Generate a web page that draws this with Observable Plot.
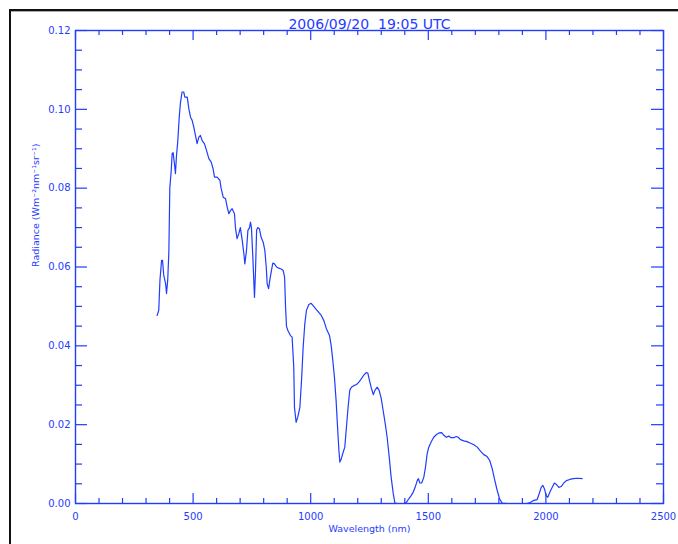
<!DOCTYPE html>
<html>
<head>
<meta charset="utf-8">
<script src="https://cdn.jsdelivr.net/npm/d3@7"></script>
<script src="https://cdn.jsdelivr.net/npm/@observablehq/plot@0.6"></script>
<style>
  html, body { margin: 0; padding: 0; background: #fff; }
  #wrap { position: relative; width: 678px; height: 544px; overflow: hidden; }
  #wrap svg { position: absolute; left: 0; top: 0; }
  #border { position: absolute; left: 9px; top: 9px; width: 680px; height: 540px;
            border-top: 2px solid #111; border-left: 2px solid #111; box-shadow: inset 0 1px 0 #aaa; pointer-events: none; }
</style>
</head>
<body>
<div id="wrap"><div id="border"></div></div>
<script>
const titleText = "2006/09/20  19:05 UTC";
const xLabel = "Wavelength (nm)";
const yLabel = "Radiance (Wm\u207B\u00B2nm\u207B\u00B9sr\u207B\u00B9)";

const wavelength = [347,354,359,366,370,375,383,387,392,397,401,407,411,415,421,425,429,435,441,446,453,460,465,475,482,489,496,503,510,517,524,531,539,548,557,567,577,585,591,602,614,619,628,638,645,652,659,666,676,680,687,694,701,709,716,720,727,733,740,744,748,754,758,761,765,770,775,782,789,798,805,811,815,821,826,833,839,846,855,864,875,883,889,893,897,903,914,921,928,931,938,945,954,961,968,975,982,992,1002,1013,1025,1035,1045,1056,1067,1080,1087,1094,1101,1108,1115,1120,1124,1130,1138,1145,1152,1159,1166,1173,1183,1195,1205,1215,1226,1236,1243,1250,1257,1266,1273,1283,1291,1300,1308,1317,1325,1334,1342,1351,1358,1370,1385,1396,1407,1417,1427,1436,1444,1453,1458,1464,1472,1481,1488,1495,1502,1512,1523,1535,1546,1557,1566,1577,1587,1597,1608,1619,1627,1637,1651,1665,1680,1694,1708,1722,1736,1750,1761,1772,1781,1793,1803,1814,1835,1860,1890,1920,1935,1949,1963,1971,1980,1987,1994,2001,2008,2017,2027,2036,2045,2055,2065,2076,2087,2102,2116,2133,2154];

const radiance = [0.0477,0.049,0.0566,0.0617,0.0617,0.058,0.0558,0.0533,0.0566,0.064,0.080,0.0845,0.0888,0.089,0.086,0.0837,0.0879,0.092,0.098,0.1015,0.1044,0.1044,0.1031,0.1031,0.1001,0.098,0.0972,0.0955,0.0934,0.0913,0.0929,0.0934,0.092,0.0913,0.0896,0.0875,0.0866,0.0849,0.0828,0.0828,0.082,0.080,0.0777,0.0773,0.0752,0.0735,0.0743,0.0748,0.0735,0.070,0.0672,0.0684,0.070,0.0667,0.0633,0.0608,0.0642,0.0693,0.070,0.0714,0.070,0.0625,0.0566,0.0523,0.0583,0.0693,0.070,0.0697,0.0676,0.0663,0.0642,0.060,0.0557,0.0545,0.0566,0.0591,0.061,0.0608,0.060,0.0597,0.0595,0.0591,0.0574,0.050,0.045,0.0439,0.0426,0.0422,0.0346,0.0244,0.0206,0.0219,0.0244,0.0312,0.0397,0.0456,0.049,0.0505,0.0508,0.050,0.0491,0.0484,0.0477,0.0464,0.0443,0.0426,0.0401,0.0363,0.032,0.0261,0.0185,0.0134,0.0105,0.0113,0.013,0.0143,0.0194,0.0244,0.0287,0.0295,0.0299,0.0302,0.0308,0.0316,0.0326,0.0332,0.0331,0.0312,0.0295,0.0276,0.0287,0.0295,0.0287,0.0266,0.0236,0.0202,0.0168,0.0117,0.0067,0.0025,0.0001,0,0,0,0.0003,0.0012,0.002,0.0029,0.0041,0.0058,0.0063,0.0052,0.0052,0.0067,0.0092,0.0126,0.0143,0.0156,0.0168,0.0175,0.0179,0.018,0.0173,0.0168,0.0171,0.0167,0.0167,0.017,0.0168,0.0162,0.0159,0.0157,0.0153,0.0149,0.0143,0.0133,0.0124,0.0119,0.0109,0.0088,0.0063,0.0033,0.0012,0.0001,0,0,0,0,0.0003,0.0008,0.001,0.0024,0.0041,0.0046,0.0037,0.002,0.0016,0.0029,0.0041,0.0052,0.0048,0.0041,0.0043,0.0052,0.0058,0.0061,0.0063,0.0064,0.0063];

const xMajor = [0, 500, 1000, 1500, 2000, 2500];
const xMinor = [100,200,300,400,600,700,800,900,1100,1200,1300,1400,1600,1700,1800,1900,2100,2200,2300,2400];
const yMajor = [0, 0.02, 0.04, 0.06, 0.08, 0.10, 0.12];
const yMinor = [0.005,0.01,0.015,0.025,0.03,0.035,0.045,0.05,0.055,0.065,0.07,0.075,0.085,0.09,0.095,0.105,0.11,0.115];

const data = wavelength.map((w, i) => ({w, r: radiance[i]}));

const W = 678, H = 544, mL = 75, mR = 15, mT = 30, mB = 41;
const pw = W - mL - mR, ph = H - mT - mB;
const blue = "#1f3cff";

const chart = Plot.plot({
  width: W, height: H,
  marginLeft: mL, marginRight: mR, marginTop: mT, marginBottom: mB,
  style: {fontFamily: "'DejaVu Sans', sans-serif", fontSize: "10px", color: blue, background: "transparent"},
  x: {domain: [0, 2500], label: null},
  y: {domain: [0, 0.12], label: null},
  marks: [
    Plot.frame({stroke: blue, strokeWidth: 1.4}),
    // bottom ticks (inward)
    Plot.tickX(xMajor, {x: d => d, stroke: blue, strokeWidth: 1.2, insetTop: ph - 10}),
    Plot.tickX(xMinor, {x: d => d, stroke: blue, strokeWidth: 1.2, insetTop: ph - 5}),
    // top ticks
    Plot.tickX(xMajor, {x: d => d, stroke: blue, strokeWidth: 1.2, insetBottom: ph - 10}),
    Plot.tickX(xMinor, {x: d => d, stroke: blue, strokeWidth: 1.2, insetBottom: ph - 5}),
    // left ticks
    Plot.tickY(yMajor, {y: d => d, stroke: blue, strokeWidth: 1.2, insetRight: pw - 12}),
    Plot.tickY(yMinor, {y: d => d, stroke: blue, strokeWidth: 1.2, insetRight: pw - 7}),
    // right ticks
    Plot.tickY(yMajor, {y: d => d, stroke: blue, strokeWidth: 1.2, insetLeft: pw - 12}),
    Plot.tickY(yMinor, {y: d => d, stroke: blue, strokeWidth: 1.2, insetLeft: pw - 7}),
    Plot.axisX({ticks: xMajor, tickSize: 0, tickPadding: 9, tickFormat: d => String(d), fontSize: 10, label: null}),
    Plot.axisY({ticks: yMajor, tickSize: 0, tickPadding: 5, tickFormat: d3.format(".2f"), fontSize: 10, label: null}),
    Plot.line(data, {x: "w", y: "r", stroke: blue, strokeWidth: 1.2}),
    Plot.text([titleText], {frameAnchor: "top", dy: -11, fontSize: 14, fill: blue, text: d => d}),
    Plot.text([xLabel], {frameAnchor: "bottom", dy: 28, fontSize: 9.5, fill: blue, text: d => d}),
    Plot.text([yLabel], {frameAnchor: "left", dx: -40, rotate: -90, fontSize: 9.5, fill: blue, text: d => d})
  ]
});
document.getElementById("wrap").insertBefore(chart, document.getElementById("border"));
</script>
</body>
</html>
